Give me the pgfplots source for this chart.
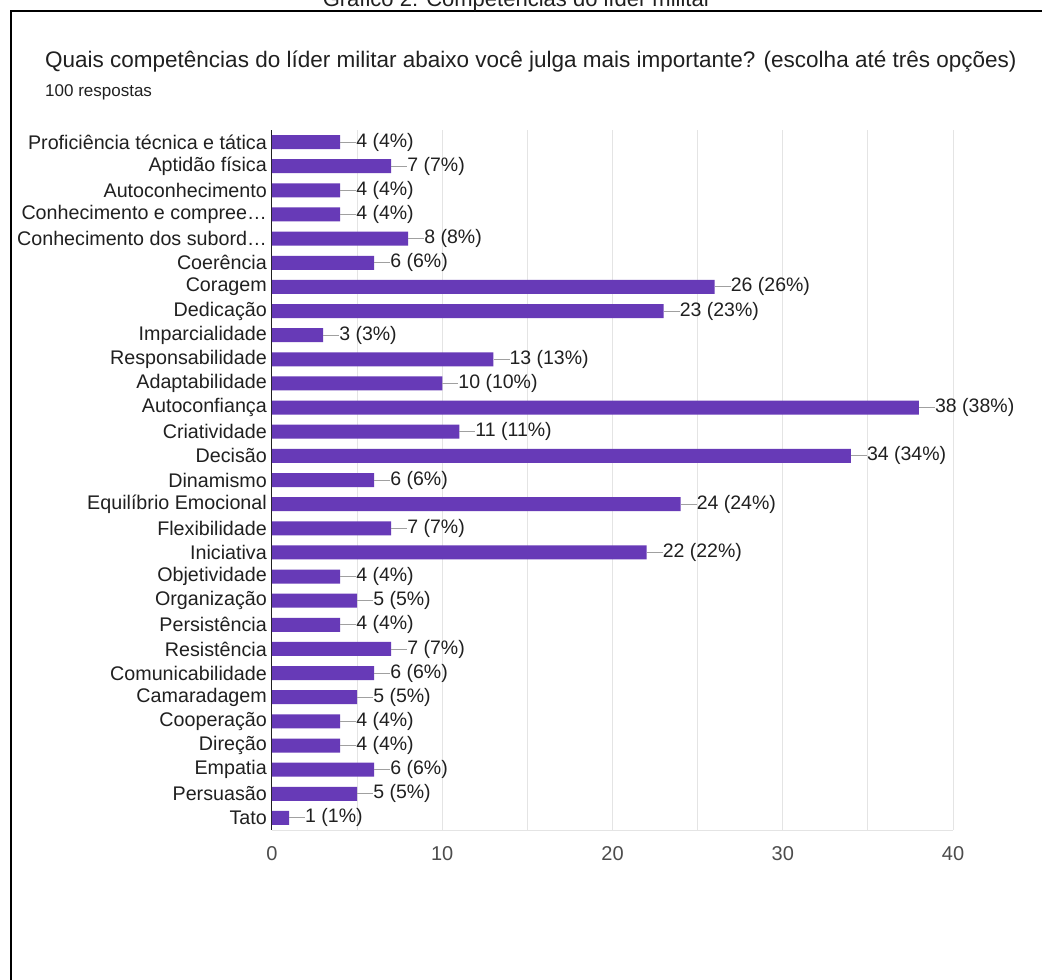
\documentclass[border=0pt]{standalone}
\usepackage{pgfplots}
\pgfplotsset{compat=1.18}
\usepackage{fontspec}
\setmainfont{Liberation Sans}
\usepackage{graphicx}
\definecolor{barpurple}{HTML}{673AB7}
\definecolor{gridgray}{HTML}{E4E4E4}
\definecolor{leadgray}{HTML}{A0A0A0}
\definecolor{txt}{HTML}{202020}
\pgfplotstableread{
i v
0 4
1 7
2 4
3 4
4 8
5 6
6 26
7 23
8 3
9 13
10 10
11 38
12 11
13 34
14 6
15 24
16 7
17 22
18 4
19 5
20 4
21 7
22 6
23 5
24 4
25 4
26 6
27 5
28 1
}\datatable
\begin{document}
\begin{tikzpicture}[x=1pt,y=1pt]
\useasboundingbox (0,0) rectangle (1042,980);
\clip (0,0) rectangle (1042,980);
\fill[white] (0,0) rectangle (1042,980);
\draw[line width=2.5pt] (11,-10) -- (11,969) -- (1060,969);
\node[anchor=base, inner sep=0pt, font=\fontsize{22}{26}\selectfont, text=txt] at (517,973) {Gráfico 2: Competências do líder militar};
\node[anchor=base west, inner sep=0pt, font=\fontsize{22.5}{27}\selectfont, text=txt] at (45,912) {Quais competências do líder militar abaixo você julga mais importante? (escolha até três opções)};
\node[anchor=base west, inner sep=0pt, font=\fontsize{17}{20}\selectfont, text=txt] at (45,883) {100 respostas};
\begin{axis}[
  at={(272pt,150pt)}, anchor=south west, scale only axis,
  width=681pt, height=700pt,
  xbar, bar width=14pt,
  xmin=0, xmax=40, ymin=-0.5, ymax=28.5, y dir=reverse,
  clip=false,
  ytick={0,...,28},
  yticklabels={Proficiência técnica e tática, Aptidão física, Autoconhecimento, Conhecimento e compree…, Conhecimento dos subord…, Coerência, Coragem, Dedicação, Imparcialidade, Responsabilidade, Adaptabilidade, Autoconfiança, Criatividade, Decisão, Dinamismo, Equilíbrio Emocional, Flexibilidade, Iniciativa, Objetividade, Organização, Persistência, Resistência, Comunicabilidade, Camaradagem, Cooperação, Direção, Empatia, Persuasão, Tato},
  xtick={0,10,20,30,40}, minor xtick={5,15,25,35},
  xmajorgrids, xminorgrids,
  major grid style={draw=gridgray, line width=1pt},
  minor grid style={draw=gridgray, line width=1pt},
  axis x line*=bottom, axis y line*=left,
  x axis line style={draw=gridgray, line width=1pt, -},
  y axis line style={draw=txt, line width=1pt, -},
  major tick length=0pt, minor tick length=0pt,
  tick style={draw=none},
  yticklabel style={font=\fontsize{19.7}{22}\selectfont, text=txt, inner sep=0pt, xshift=-5pt},
  xticklabel style={font=\fontsize{20}{24}\selectfont, text=black!70, inner sep=0pt, yshift=-16pt},
  /pgf/number format/assume math mode=true,
  nodes near coords={\textcolor{leadgray}{\rule[4.5pt]{16pt}{1pt}}\pgfmathprintnumber{\pgfplotspointmeta}~(\pgfmathprintnumber{\pgfplotspointmeta}\%)},
  every node near coord/.append style={anchor=west, inner sep=0pt, font=\fontsize{19.5}{22}\selectfont, text=txt},
]
\addplot[fill=barpurple, draw=none] table[x=v, y=i] {\datatable};
\end{axis}
\end{tikzpicture}
\end{document}
